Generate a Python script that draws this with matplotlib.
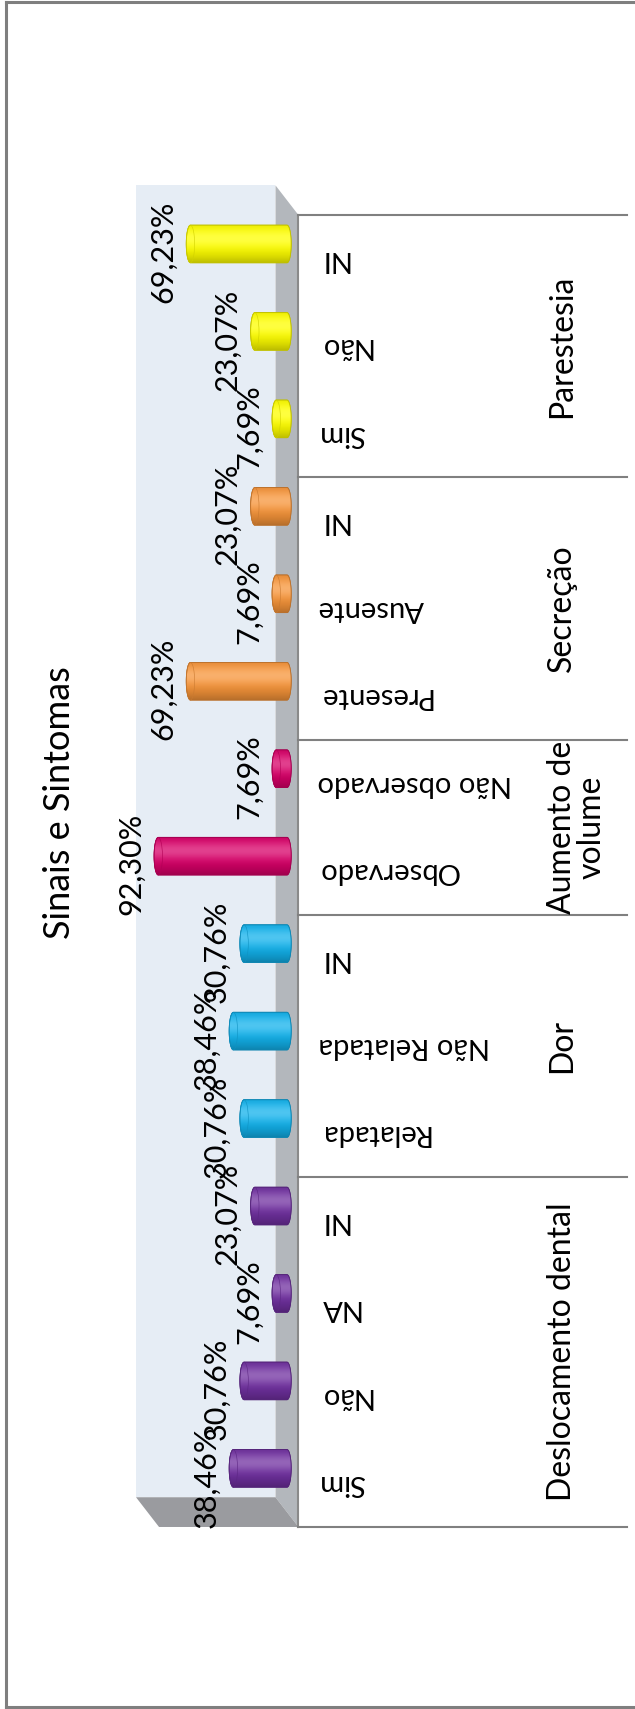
import numpy as np
import matplotlib
matplotlib.use("Agg")
import matplotlib.pyplot as plt
import matplotlib.transforms as mtransforms
from matplotlib.patches import Polygon, Ellipse
from matplotlib.lines import Line2D
from matplotlib.colors import to_rgb

# Sinais e sintomas: percentages per answer, grouped by sign/symptom
groups = ["Deslocamento dental", "Dor", "Aumento de\nvolume", "Secreção", "Parestesia"]
group_sizes = [4, 3, 2, 3, 3]
categories = ["Sim", "Não", "NA", "NI",
              "Relatada", "Não Relatada", "NI",
              "Observado", "Não observado",
              "Presente", "Ausente", "NI",
              "Sim", "Não", "NI"]
values = [38.46, 30.76, 7.69, 23.07,
          30.76, 38.46, 30.76,
          92.30, 7.69,
          69.23, 7.69, 23.07,
          7.69, 23.07, 69.23]
group_colors = ["#7030A0", "#12B2EC", "#D80068", "#F7953A", "#FFFF00"]

FONT = ["Lato", "DejaVu Sans"]
W, H = 635, 1709

# oblique 3D look: depth of the plot box in data units
DX, DY = 16.5, 0.34
CAP = 3.0          # half-width of the round cylinder ends (in %)
BAR_H = 0.43

fig = plt.figure(figsize=(W / 100, H / 100), dpi=100)
ax = fig.add_axes([110 / W, (H - 1545) / H, 195 / W, 1385 / H])
ax.set_axis_off()


def shade(color, n=64):
    c = np.array(to_rgb(color))
    s = np.linspace(-1, 1, n)
    light = np.clip(1 - ((s - 0.3) / 1.35) ** 2, 0, 1)
    rgb = c[None, :] * (0.72 + 0.28 * light[:, None])
    rgb = rgb + (1 - rgb) * 0.25 * (light[:, None] ** 8)
    return np.clip(rgb, 0, 1)[:, None, :]


def cylinder(ax, yc, v, color):
    hh = BAR_H / 2
    t = np.linspace(np.pi / 2, -np.pi / 2, 40)
    right = np.column_stack([-CAP * np.cos(t), yc + hh * np.sin(t)])
    t2 = np.linspace(-np.pi / 2, np.pi / 2, 40)
    left = np.column_stack([v + CAP * np.cos(t2), yc + hh * np.sin(t2)])
    verts = np.vstack([right, left])
    c = np.array(to_rgb(color))
    body = Polygon(verts, closed=True, facecolor=color,
                   edgecolor=c * 0.75, lw=0.6, zorder=3)
    ax.add_patch(body)
    im = ax.imshow(shade(color), extent=(-CAP, v + CAP, yc - hh, yc + hh),
                   origin="lower", aspect="auto", interpolation="bilinear", zorder=3.1)
    im.set_clip_path(body)
    ax.add_patch(Polygon(verts, closed=True, facecolor="none",
                         edgecolor=c * 0.75, lw=0.6, zorder=3.2))
    ax.add_patch(Ellipse((v, yc), 2 * CAP, BAR_H, facecolor="none",
                         edgecolor=c * 0.82, lw=0.4, zorder=3.2))


n = len(categories)
colors = np.repeat(group_colors, group_sizes)

# walls and floor
ax.add_patch(Polygon([(DX / 2, DY), (DX / 2 + 100, DY), (DX / 2 + 100, n + DY), (DX / 2, n + DY)],
                     facecolor="#E6EDF5", edgecolor="none", zorder=0))
ax.add_patch(Polygon([(DX / 2, DY), (-DX / 2, 0), (-DX / 2, n), (DX / 2, n + DY)],
                     facecolor="#B3B7BC", edgecolor="none", zorder=1))
ax.add_patch(Polygon([(DX / 2, DY), (DX / 2 + 100, DY), (-DX / 2 + 100, 0), (-DX / 2, 0)],
                     facecolor="#9A9B9F", edgecolor="none", zorder=1))

for i, (v, col) in enumerate(zip(values, colors)):
    yc = i + 0.5 + DY / 2
    cylinder(ax, yc, v, col)
    ax.annotate(f"{v:.2f}".replace(".", ",") + "%", xy=(v + CAP, yc), xytext=(-9, -8),
                textcoords="offset pixels", rotation=90, ha="right", va="center",
                fontsize=22, family=FONT, color="black", zorder=5)

ax.set_xlim(126.9, -12.9)
ax.set_ylim(-0.206, 15.63)

# category axis: labels, group lines, group names
trans = mtransforms.blended_transform_factory(fig.transFigure, ax.transData)
x_front = 298 / W
ax.plot([x_front, x_front], [0, n], transform=trans, color="#8A8A8A", lw=1.5, clip_on=False)

for i, lab in enumerate(categories):
    ax.text(318 / W, i + 0.5, lab, transform=trans, rotation=180, ha="left", va="center",
            fontsize=21, family=FONT, clip_on=False)

bounds = np.concatenate([[0], np.cumsum(group_sizes)])
for b in bounds:
    ax.plot([x_front, 627 / W], [b, b], transform=trans, color="#808080", lw=1.5, clip_on=False)
for g, lo, hi in zip(groups, bounds[:-1], bounds[1:]):
    ax.text(547 / W, (lo + hi) / 2, g, transform=trans, rotation=90, ha="left", va="center",
            multialignment="center", fontsize=23, family=FONT, linespacing=1.0, clip_on=False)

fig.text(60 / W, 1 - 803 / H, "Sinais e Sintomas", rotation=90, ha="center", va="center",
         fontsize=26, family=FONT)

# outer frame
for xs, ys in [([6, 6], [2, 1707]), ([6, W], [2, 2]), ([6, W], [1707, 1707])]:
    fig.add_artist(Line2D([x / W for x in xs], [1 - y / H for y in ys],
                          color="#7F7F7F", lw=2.2))

fig.savefig("out.png", dpi=100, facecolor="white")
